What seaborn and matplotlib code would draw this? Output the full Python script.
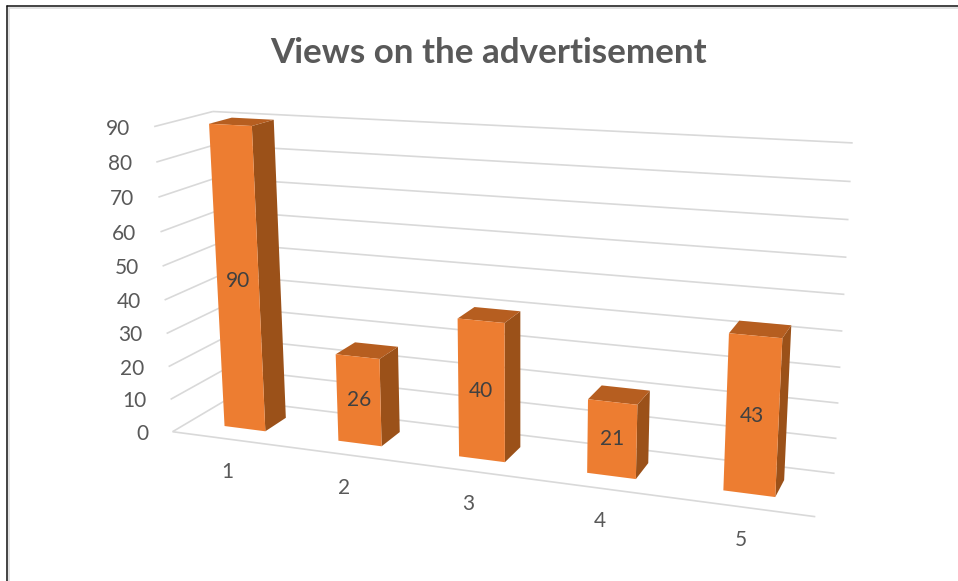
import numpy as np
import pandas as pd
import matplotlib
matplotlib.use("Agg")
import matplotlib.pyplot as plt
from matplotlib.lines import Line2D
from matplotlib.patches import Rectangle
from matplotlib.transforms import Affine2D, Transform
import seaborn as sns

# Chart content
title = "Views on the advertisement"
categories = ["1", "2", "3", "4", "5"]
views = [90, 26, 40, 21, 43]
value_ticks = [0, 10, 20, 30, 40, 50, 60, 70, 80, 90]

# Colours
FRONT = "#ED7D31"
SIDE = "#9B5119"
TOP = "#B65E20"
GRID = "#D9D9D9"
TICK_TEXT = "#595959"
LABEL_TEXT = "#404040"

WIDTH_PX, HEIGHT_PX = 958, 581
BAR_DEPTH = (0.3, 0.7)

# Camera calibration: plot-box corners (category position, depth, value) and
# where each one lands on the canvas, measured from the top-left corner.
box_corners = np.array([
    [-0.5, 0, 0], [4.5, 0, 0], [-0.5, 1, 0], [4.5, 1, 0],
    [-0.5, 0, 90], [-0.5, 1, 90], [4.5, 1, 90], [4.5, 1, 40],
], dtype=float)
canvas_corners = np.array([
    [172, 432], [815, 517], [228, 399], [835, 473],
    [155, 126], [212, 112], [853, 143], [842, 331],
], dtype=float)


def fit_camera(world, image):
    """Direct linear fit of a 3x4 projective camera."""
    rows = []
    for (x, y, z), (u, v) in zip(world, image / 1000.0):
        h = [x, y, z / 90.0, 1.0]
        rows.append(h + [0, 0, 0, 0] + [-u * c for c in h])
        rows.append([0, 0, 0, 0] + h + [-v * c for c in h])
    _, _, vt = np.linalg.svd(np.array(rows))
    return vt[-1].reshape(3, 4)


CAMERA = fit_camera(box_corners, canvas_corners)


class PlaneProjection(Transform):
    """Projects a 2D coordinate on one plane of the plot box to the canvas."""
    input_dims = output_dims = 2
    is_affine = False
    has_inverse = False

    def __init__(self, axis, level):
        super().__init__()
        self.axis, self.level = axis, level

    def transform_non_affine(self, values):
        values = np.asarray(values, dtype=float).reshape(-1, 2)
        a, b = values[:, 0], values[:, 1]
        fixed = np.full_like(a, self.level)
        if self.axis == "depth":      # (category, value) at a fixed depth
            x, y, z = a, fixed, b
        elif self.axis == "category":  # (depth, value) at a fixed category
            x, y, z = fixed, a, b
        else:                          # (category, depth) at a fixed value
            x, y, z = a, b, fixed
        h = CAMERA @ np.column_stack([x, y, z / 90.0, np.ones_like(x)]).T
        px = h[0] / h[2] * 1000.0
        py = h[1] / h[2] * 1000.0
        return np.column_stack([px, HEIGHT_PX - py])


sns.set_theme(style="white")
plt.rcParams["font.family"] = ["Lato", "DejaVu Sans"]

fig = plt.figure(figsize=(WIDTH_PX / 100, HEIGHT_PX / 100), dpi=100, facecolor="white")
ax = fig.add_axes([0, 0, 1, 1])

frame = pd.DataFrame({"category": categories, "views": views})
sns.barplot(data=frame, x="category", y="views", order=categories, width=0.365,
            color=FRONT, saturation=1, linewidth=0, ax=ax, zorder=5)
ax.set_axis_off()

back_wall = PlaneProjection("depth", 1.0)
left_wall = PlaneProjection("category", -0.5)
floor = PlaneProjection("value", 0.0)
front_plane = PlaneProjection("depth", BAR_DEPTH[0])

# Gridlines on the back and left walls, and the front edge of the floor
line_style = dict(color=GRID, lw=1.2, clip_on=False, zorder=1, solid_capstyle="butt")
for tick in value_ticks:
    ax.plot([-0.5, 4.5], [tick, tick], transform=back_wall, **line_style)
    ax.plot([0, 1], [tick, tick], transform=left_wall, **line_style)
ax.plot([-0.5, 4.5], [0, 0], transform=floor, **line_style)

# Each seaborn bar becomes the front face of a box
depth_span = BAR_DEPTH[1] - BAR_DEPTH[0]
for bar, value in zip(ax.patches[:len(views)], views):
    x0, width, height = bar.get_x(), bar.get_width(), bar.get_height()
    bar.set_transform(front_plane)
    bar.set_clip_on(False)
    ax.add_patch(Rectangle((BAR_DEPTH[0], 0), depth_span, height, facecolor=SIDE, lw=0,
                           transform=PlaneProjection("category", x0 + width),
                           clip_on=False, zorder=3))
    ax.add_patch(Rectangle((x0, BAR_DEPTH[0]), width, depth_span, facecolor=TOP, lw=0,
                           transform=PlaneProjection("value", height),
                           clip_on=False, zorder=3))
    ax.text(x0 + width / 2, height / 2, str(value), transform=front_plane,
            ha="center", va="center", fontsize=15, color=LABEL_TEXT, zorder=7)


def shifted(base, dx, dy):
    return base + Affine2D().translate(dx, dy)


# Value-axis labels, set off to the left of the wall
tick_transform = shifted(left_wall, -24, -2)
for tick in value_ticks:
    ax.text(0, tick, str(tick), transform=tick_transform, ha="right", va="center",
            fontsize=15, color=TICK_TEXT, clip_on=False)

# Category labels below the front edge of the floor
label_transform = shifted(floor, -1, -33)
for position, label in enumerate(categories):
    ax.text(position, 0, label, transform=label_transform, ha="center", va="center",
            fontsize=15, color=TICK_TEXT, clip_on=False)

fig.text(488 / WIDTH_PX, 1 - 53 / HEIGHT_PX, title, ha="center", va="center",
         fontsize=25.2, fontweight="bold", color=TICK_TEXT)

# Outer border along the top and left, with a faint inner shade
for offset, colour, lw in [(2.5, "#DDDDDD", 1.2), (0, "#111111", 1.1)]:
    x_edge = (6.5 + offset) / WIDTH_PX
    y_edge = 1 - (5.5 + offset) / HEIGHT_PX
    fig.add_artist(Line2D([x_edge, 1], [y_edge, y_edge], color=colour, lw=lw))
    fig.add_artist(Line2D([x_edge, x_edge], [0, y_edge], color=colour, lw=lw))

fig.savefig("out.png", dpi=100)
